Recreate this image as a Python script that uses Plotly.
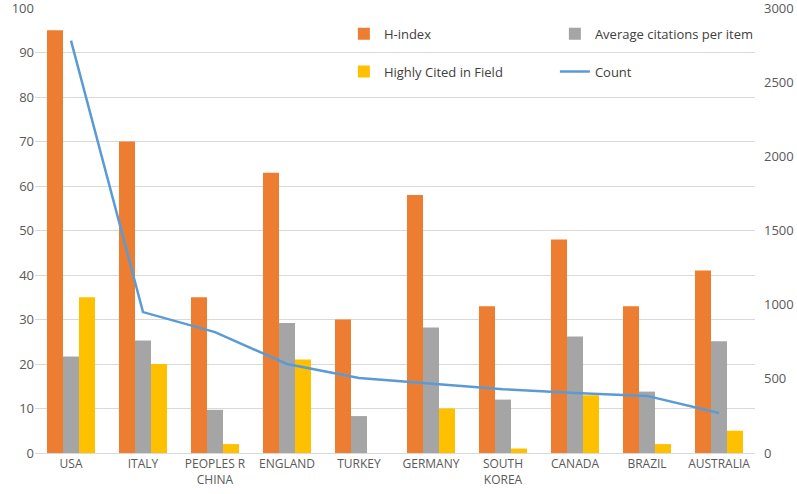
import plotly.graph_objects as go

countries = ["USA", "ITALY", "PEOPLES R<br>CHINA", "ENGLAND", "TURKEY", "GERMANY",
             "SOUTH<br>KOREA", "CANADA", "BRAZIL", "AUSTRALIA"]
h_index = [95, 70, 35, 63, 30, 58, 33, 48, 33, 41]
avg_citations = [21.7, 25.3, 9.7, 29.2, 8.3, 28.2, 12.0, 26.2, 13.8, 25.1]
highly_cited = [35, 20, 2, 21, 0, 10, 1, 13, 2, 5]
count = [2780, 950, 815, 600, 505, 465, 430, 405, 385, 270]

FONT = "Open Sans"
TXT = "#595959"

fig = go.Figure()
fig.add_trace(go.Bar(name="H-index", x=countries, y=h_index, marker_color="#ED7D31",
                     marker_line_width=0, legend="legend"))
fig.add_trace(go.Bar(name="Average citations per item", x=countries, y=avg_citations,
                     marker_color="#A5A5A5", marker_line_width=0, legend="legend"))
fig.add_trace(go.Bar(name="Highly Cited in Field", x=countries, y=highly_cited,
                     marker_color="#FFC000", marker_line_width=0, legend="legend2"))
fig.add_trace(go.Scatter(name="Count", x=countries, y=count, mode="lines", yaxis="y2",
                         line=dict(color="#5B9BD5", width=2.5), legend="legend2"))

legend_common = dict(orientation="h", xanchor="left", yanchor="middle", x=0.429,
                     entrywidth=166, entrywidthmode="pixels",
                     bgcolor="rgba(0,0,0,0)", font=dict(family=FONT, size=13, color="#404040"),
                     traceorder="normal")

fig.update_layout(
    width=797, height=494,
    margin=dict(l=35, r=42, t=8, b=41),
    paper_bgcolor="white", plot_bgcolor="white",
    barmode="group", bargap=0.333, bargroupgap=0,
    font=dict(family=FONT, size=12, color=TXT),
    xaxis=dict(showgrid=False, showline=True, linecolor="#D9D9D9", linewidth=1,
               tickfont=dict(family=FONT, size=12, color=TXT), ticks="",
               tickangle=0, automargin=False),
    yaxis=dict(range=[0, 100], dtick=10, showgrid=True, gridcolor="#D9D9D9", gridwidth=1,
               zeroline=False, showline=False, automargin=False, ticklabeloverflow="allow",
               tickfont=dict(family=FONT, size=13, color=TXT)),
    yaxis2=dict(range=[0, 3000], dtick=500, overlaying="y", side="right", showgrid=False,
                zeroline=False, showline=False, automargin=False, ticklabelstandoff=8,
                ticklabeloverflow="allow",
                tickfont=dict(family=FONT, size=13, color=TXT)),
    legend=dict(y=0.942, **legend_common),
    legend2=dict(y=0.857, **legend_common),
)

fig.write_html("out.html", config={"displayModeBar": False},
               post_script="document.body.style.margin='0';")
